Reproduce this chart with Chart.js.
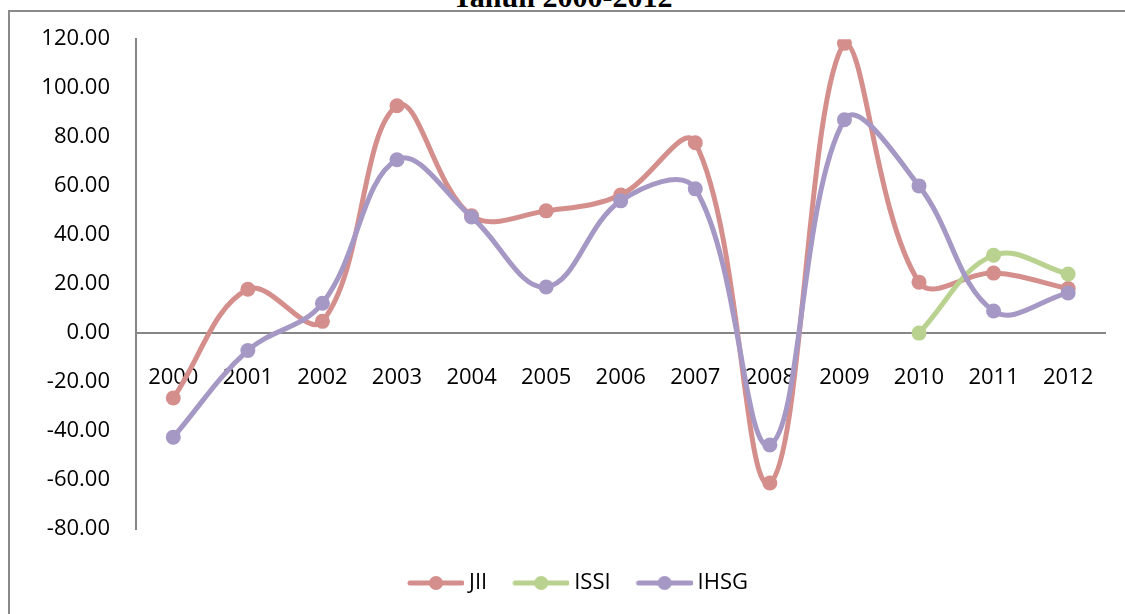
<!DOCTYPE html>
<html>
<head>
<meta charset="utf-8">
<script src="https://cdn.jsdelivr.net/npm/chart.js@4/dist/chart.umd.min.js"></script>
<style>
  html, body { margin: 0; padding: 0; background: #fff; overflow: hidden; }
  #wrap { position: relative; width: 1125px; height: 614px; overflow: hidden; }
  #frame { position: absolute; left: 8px; top: 10px; width: 2000px; height: 2000px;
           border: 2px solid #8a8a8a; box-sizing: border-box; }
  #title { position: absolute; left: 0; width: 1125px; top: -18px; text-align: center;
           font: bold 30px "Liberation Serif", "DejaVu Serif", serif; line-height: 30px;
           color: #000; }
  canvas { position: absolute; left: 0; top: 0; }
</style>
</head>
<body>
<div id="wrap">
  <div id="frame"></div>
  <div id="title">Tahun 2000-2012</div>
  <canvas id="c" width="1125" height="614"></canvas>
</div>
<script>
// data
const years = ['2000','2001','2002','2003','2004','2005','2006','2007','2008','2009','2010','2011','2012'];
const jii  = [-26.5, 17.9, 4.8, 92.8, 47.9, 49.9, 56.4, 77.7, -61.2, 118.3, 20.8, 24.5, 18.2];
const issi = [null, null, null, null, null, null, null, null, null, null, 0.0, 31.8, 24.1];
const ihsg = [-42.5, -7.1, 12.2, 70.8, 47.4, 18.8, 54.0, 58.9, -45.7, 87.1, 60.1, 9.0, 16.4];
const yTicks = [120, 100, 80, 60, 40, 20, 0, -20, -40, -60, -80];

const COL_JII = '#d48e8c';
const COL_ISSI = '#b9d28f';
const COL_IHSG = '#a698c5';
const FONT = '"Open Sans", "Liberation Sans", sans-serif';

// legend marker: line with a dot in the middle
function legendMark(color) {
  const c = document.createElement('canvas');
  c.width = 68; c.height = 18;
  const g = c.getContext('2d');
  g.strokeStyle = color; g.lineWidth = 5; g.lineCap = 'round';
  g.beginPath(); g.moveTo(14, 9); g.lineTo(66, 9); g.stroke();
  g.fillStyle = color;
  g.beginPath(); g.arc(40, 9, 7, 0, Math.PI * 2); g.fill();
  return c;
}

function series(label, data, color, order) {
  return {
    label, data, order,
    borderColor: color, backgroundColor: color,
    borderWidth: 5, tension: 0.38,
    pointRadius: 7.5, pointHoverRadius: 7.5,
    pointBackgroundColor: color, pointBorderColor: color, pointBorderWidth: 0,
    _mark: legendMark(color)
  };
}

// push the legend down a bit, below the space kept for the x labels
const legendShift = {
  id: 'legendShift',
  afterLayout(chart) {
    chart.legend.top += 23;
    chart.legend.bottom += 23;
  }
};

new Chart(document.getElementById('c'), {
  type: 'line',
  data: {
    labels: years,
    datasets: [
      series('JII', jii, COL_JII, 2),
      series('ISSI', issi, COL_ISSI, 1),
      series('IHSG', ihsg, COL_IHSG, 0)
    ]
  },
  options: {
    responsive: false,
    animation: false,
    layout: { padding: { top: 38, right: 18, bottom: 33, left: 43 } },
    plugins: {
      tooltip: { enabled: false },
      legend: {
        position: 'bottom',
        labels: {
          usePointStyle: true,
          pointStyleWidth: 56,
          padding: 20,
          color: '#000',
          font: { family: FONT, size: 22 },
          generateLabels(chart) {
            return chart.data.datasets.map((ds, i) => ({
              text: ds.label,
              fillStyle: ds.borderColor,
              strokeStyle: ds.borderColor,
              lineWidth: 0,
              pointStyle: ds._mark,
              fontColor: '#000',
              hidden: false,
              datasetIndex: i
            }));
          }
        }
      }
    },
    scales: {
      x: {
        position: { y: 0 },
        offset: true,
        grid: { display: false, drawTicks: false },
        border: { display: true, color: '#868686', width: 2 },
        ticks: { color: '#000', padding: 31, maxRotation: 0, font: { family: FONT, size: 22 } }
      },
      y: {
        min: -80, max: 120,
        afterBuildTicks(scale) { scale.ticks = yTicks.map(v => ({ value: v })); },
        grid: { display: false, drawTicks: false },
        border: { display: true, color: '#868686', width: 2 },
        ticks: {
          color: '#000', padding: 26,
          font: { family: FONT, size: 22 },
          callback: v => v.toFixed(2)
        },
        afterFit(scale) { scale.width = 93; }
      }
    }
  },
  plugins: [legendShift]
});
</script>
</body>
</html>
